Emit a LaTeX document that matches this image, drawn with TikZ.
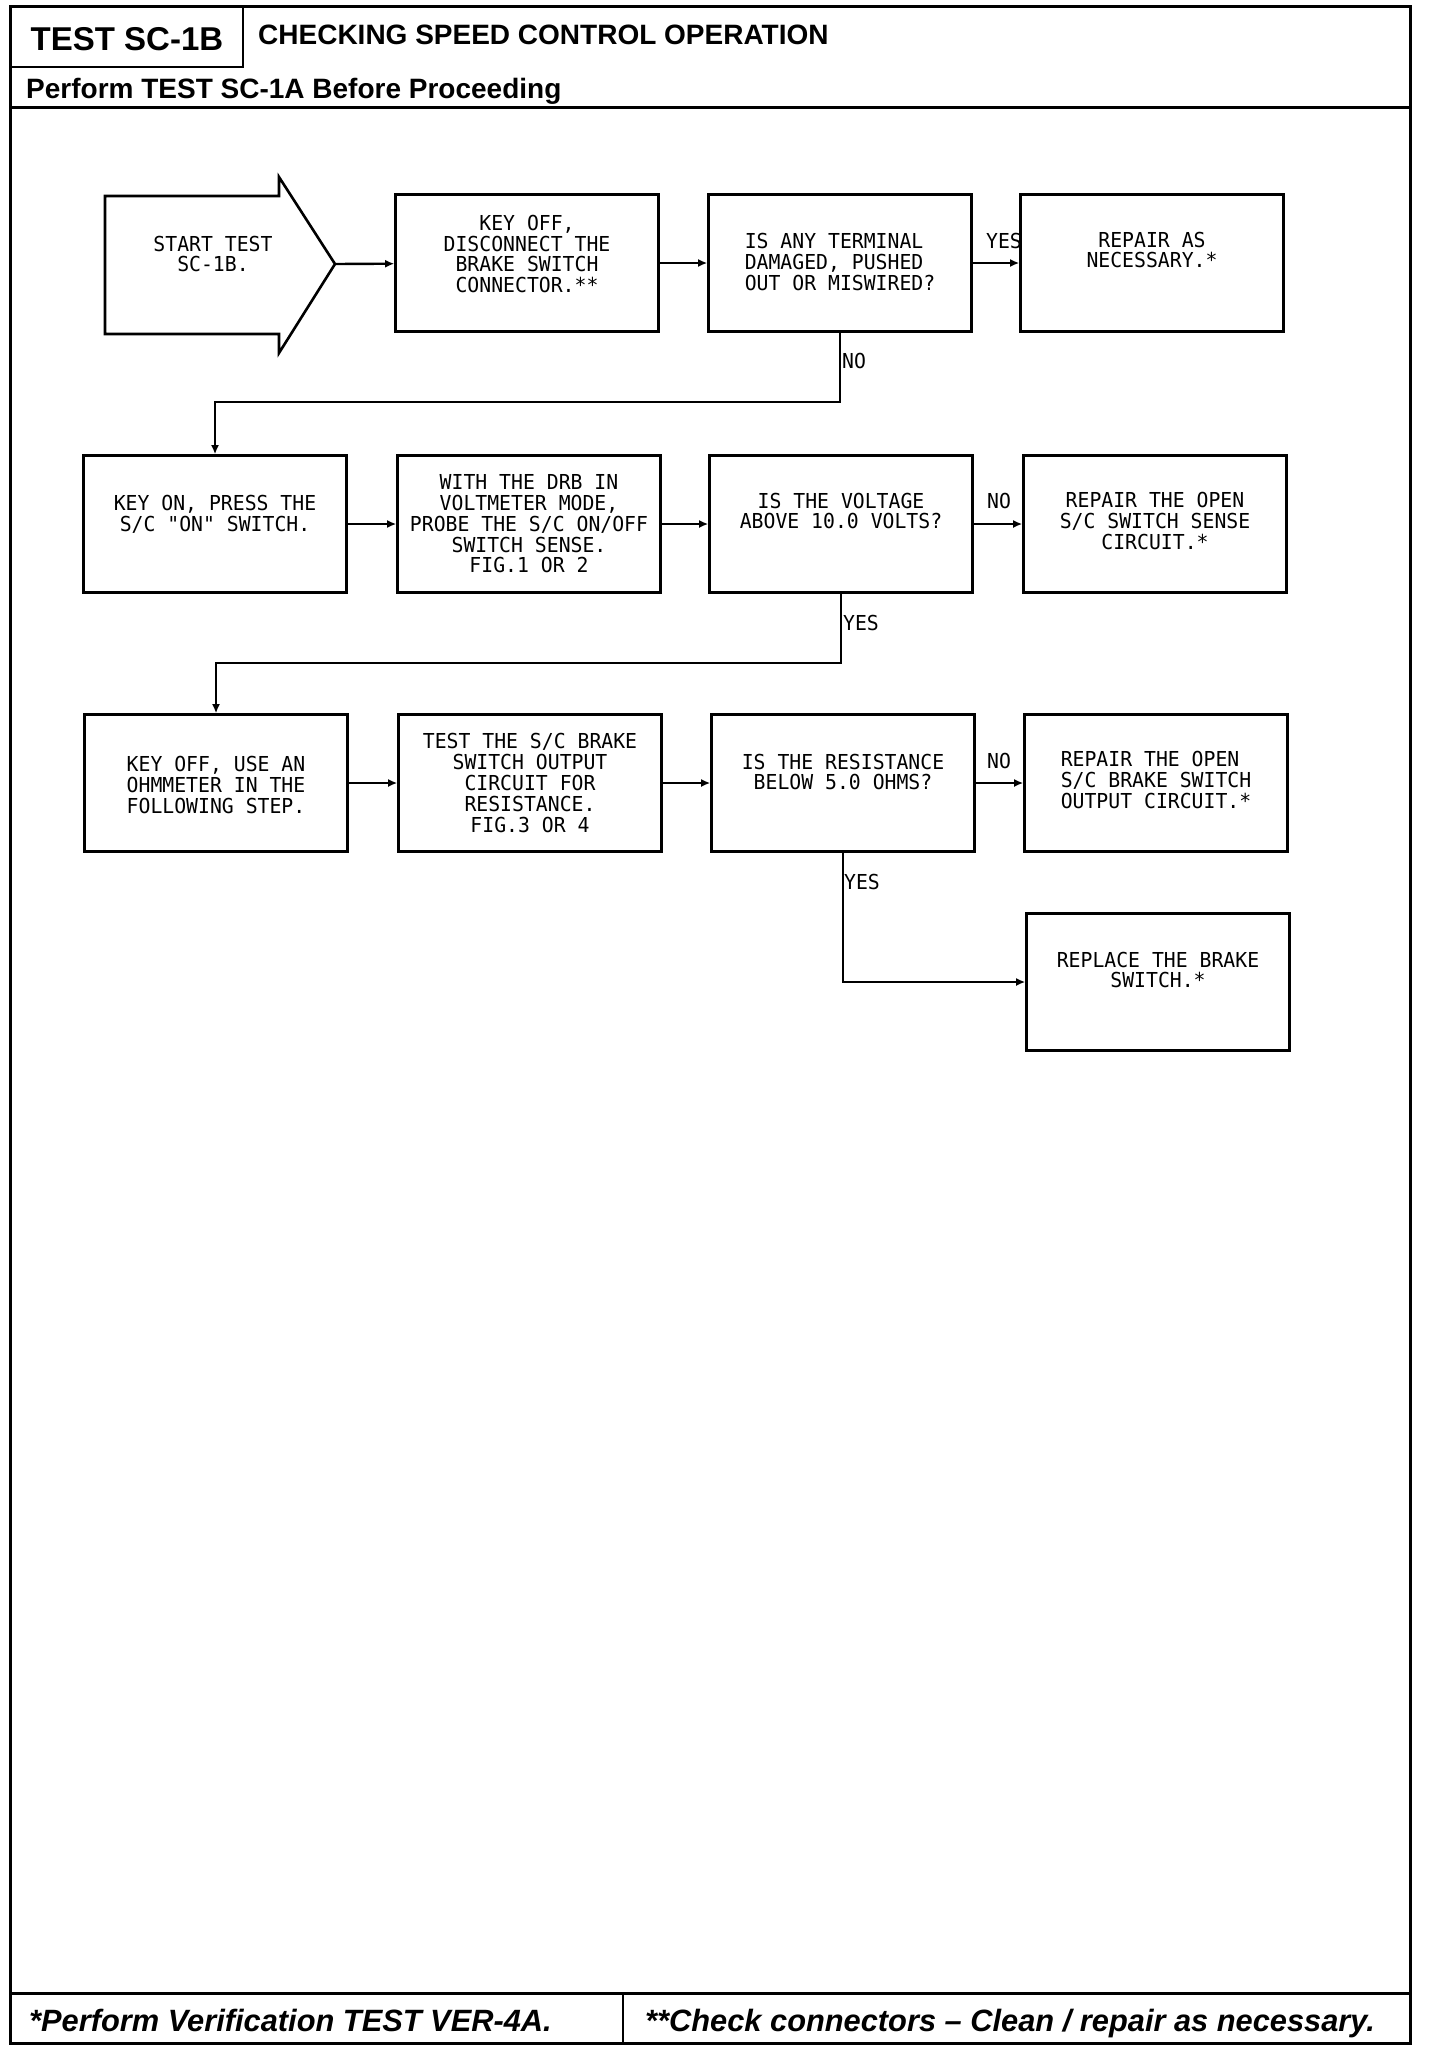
\documentclass[tikz,border=0pt]{standalone}
\usepackage{fontspec}
\setmainfont{Liberation Sans}
\newfontfamily\plotfont[FakeStretch=0.96]{DejaVu Sans Mono}
\usetikzlibrary{arrows.meta,positioning}

\begin{document}
\begin{tikzpicture}[x=1pt,y=-1pt,
  box/.style={draw,line width=2.6pt,minimum width=263pt,minimum height=137pt,inner sep=0pt},
  txt/.style={font=\plotfont\fontsize{20.6}{20.8}\selectfont,align=center,inner sep=0pt},
  lbl/.style={font=\plotfont\fontsize{20.6}{20.8}\selectfont,inner sep=0pt},
  conn/.style={line width=2.4pt,-{Latex[length=9pt,width=8pt]}},
  hdr/.style={font=\bfseries\fontsize{28}{30}\selectfont,inner sep=0pt,anchor=base west},
  foot/.style={font=\bfseries\itshape\fontsize{30.8}{32}\selectfont,inner sep=0pt,anchor=base west}]
\useasboundingbox (0,0) rectangle (1440,2050);

\draw[line width=3pt] (10,7) rectangle (1410,2043);
\draw[line width=2.5pt] (243,7) -- (243,67) -- (10,67);
\draw[line width=3pt] (10,107) -- (1410,107);
\draw[line width=3pt] (10,1993) -- (1410,1993);
\draw[line width=2.5pt] (623,1993) -- (623,2043);
\node[font=\bfseries\fontsize{33}{36}\selectfont,inner sep=0pt,anchor=base] (tid) at (127,51) {TEST SC-1B};
\node[hdr] (ttl) at (258,45) {CHECKING SPEED CONTROL OPERATION};
\node[hdr] (pre) at (26,99) {Perform TEST SC-1A Before Proceeding};
\node[foot] (n1) at (29,2031) {*Perform Verification TEST VER-4A.};
\node[foot] (n2) at (645,2031) {**Check connectors -- Clean / repair as necessary.};

\draw[line width=2.6pt,line join=miter] (105,196) -- (279,196) -- (279,177) -- (335,264)
  -- (279,353) -- (279,334) -- (105,334) -- cycle;
\coordinate (tip) at (335,264);
\node[txt] (t-st) at (213,254) {START TEST\\SC-1B.};

\node[box] (b1) at (527,263) {};
\node[box] (q1) at (840,263) {};
\node[box] (r1) at (1152,263) {};
\node[txt] (t-b1) at ([yshift=9pt]b1.center) {KEY OFF,\\DISCONNECT THE\\BRAKE SWITCH\\CONNECTOR.**};
\node[txt,align=left] (t-q1) at ([yshift=1pt]q1.center) {IS ANY TERMINAL\\DAMAGED, PUSHED\\OUT OR MISWIRED?};
\node[txt] (t-r1) at ([yshift=13pt]r1.center) {REPAIR AS\\NECESSARY.*};

\node[box] (a2) at (215,524) {};
\node[box] (b2) at (529,524) {};
\node[box] (q2) at (841,524) {};
\node[box] (r2) at (1155,524) {};
\node[txt] (t-a2) at ([yshift=10pt]a2.center) {KEY ON, PRESS THE\\S/C "ON" SWITCH.};
\node[txt] (t-b2) at (b2.center) {WITH THE DRB IN\\VOLTMETER MODE,\\PROBE THE S/C ON/OFF\\SWITCH SENSE.\\FIG.1 OR 2};
\node[txt] (t-q2) at ([yshift=13pt]q2.center) {IS THE VOLTAGE\\ABOVE 10.0 VOLTS?};
\node[txt] (t-r2) at ([yshift=3pt]r2.center) {REPAIR THE OPEN\\S/C SWITCH SENSE\\CIRCUIT.*};

\node[box] (a3) at (216,783) {};
\node[box] (b3) at (530,783) {};
\node[box] (q3) at (843,783) {};
\node[box] (r3) at (1156,783) {};
\node[txt,align=left] (t-a3) at ([yshift=-2pt]a3.center) {KEY OFF, USE AN\\OHMMETER IN THE\\FOLLOWING STEP.};
\node[txt] (t-b3) at (b3.center) {TEST THE S/C BRAKE\\SWITCH OUTPUT\\CIRCUIT FOR\\RESISTANCE.\\FIG.3 OR 4};
\node[txt] (t-q3) at ([yshift=11pt]q3.center) {IS THE RESISTANCE\\BELOW 5.0 OHMS?};
\node[txt,align=left] (t-r3) at ([yshift=3pt]r3.center) {REPAIR THE OPEN\\S/C BRAKE SWITCH\\OUTPUT CIRCUIT.*};

\node[box] (r4) at (1158,982) {};
\node[txt] (t-r4) at ([yshift=12pt]r4.center) {REPLACE THE BRAKE\\SWITCH.*};

\node[lbl] (yes1) at (1004,241) {YES};
\node[lbl] (no1) at (854,361) {NO};
\node[lbl] (no2) at (999,501) {NO};
\node[lbl] (yes2) at (861,623) {YES};
\node[lbl] (no3) at (999,761) {NO};
\node[lbl] (yes3) at (862,882) {YES};

\coordinate (k1) at (520,402);
\coordinate (k2) at (520,663);
\draw[conn] (tip) -- (b1);
\draw[conn] (b1) -- (q1);
\draw[conn] (q1) -- (r1);
\draw[conn] (q1.south) |- (k1) -| (a2.north);
\draw[conn] (a2) -- (b2);
\draw[conn] (b2) -- (q2);
\draw[conn] (q2) -- (r2);
\draw[conn] (q2.south) |- (k2) -| (a3.north);
\draw[conn] (a3) -- (b3);
\draw[conn] (b3) -- (q3);
\draw[conn] (q3) -- (r3);
\draw[conn] (q3.south) |- (r4.west);
\end{tikzpicture}
\end{document}
